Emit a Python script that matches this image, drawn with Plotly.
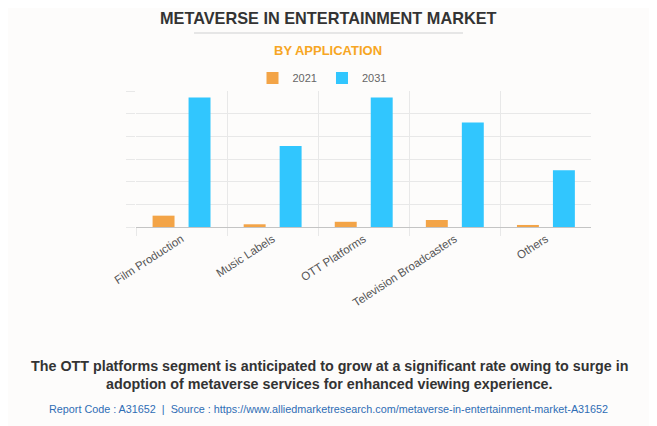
import plotly.graph_objects as go

categories = ["Film Production", "Music Labels", "OTT Platforms", "Television Broadcasters", "Others"]
values_2021 = [0.50, 0.12, 0.23, 0.31, 0.09]
values_2031 = [5.71, 3.57, 5.71, 4.61, 2.50]
series_names = ["2021", "2031"]

OFF = 8  # page body margin offset in the browser
W, H = 657 - OFF, 426 - OFF
ML, MR, MT, MB = 128, 66, 83, 199
PW, PH = W - ML - MR, H - MT - MB

def px(x):
    # x is a screen pixel position of the reference
    return (x - OFF - ML) / PW

def py(y):
    return (H - MB - (y - OFF)) / PH

fig = go.Figure()
fig.add_trace(go.Bar(name=series_names[0], x=categories, y=values_2021,
                     marker=dict(color="#F3A447", line=dict(width=0))))
fig.add_trace(go.Bar(name=series_names[1], x=categories, y=values_2031,
                     marker=dict(color="#31C6FE", line=dict(width=0))))

font_main = "Liberation Sans, Arial, sans-serif"

fig.update_layout(
    width=W, height=H,
    margin=dict(l=ML, r=MR, t=MT, b=MB, autoexpand=False),
    paper_bgcolor="#fdfcfb", plot_bgcolor="#fdfcfb",
    barmode="group", bargap=0.21, bargroupgap=0.39,
    showlegend=True,
    legend=dict(orientation="h", x=px(322), xanchor="center", y=py(78), yanchor="middle",
                font=dict(family=font_main, size=11, color="#666666"),
                bgcolor="rgba(0,0,0,0)", itemwidth=30, traceorder="normal"),
    xaxis=dict(type="category", tickson="boundaries", showgrid=True, gridcolor="#e8e8e8",
               gridwidth=1, ticks="outside", ticklen=8, tickcolor="#e8e8e8",
               showline=True, linecolor="#c4c4c4", linewidth=1,
               range=[-0.5, len(categories) - 0.505],
               tickangle=-33, tickfont=dict(family=font_main, size=11.5, color="#555555"),
               zeroline=False),
    yaxis=dict(range=[0, 6], dtick=1, showgrid=True, gridcolor="#e8e8e8", gridwidth=1,
               ticks="outside", ticklen=9, tickcolor="#e8e8e8", showticklabels=False,
               zeroline=False, showline=False),
    font=dict(family=font_main),
)

annotations = [
    dict(text="<b>METAVERSE IN ENTERTAINMENT MARKET</b>", x=px(328), y=py(18),
         font=dict(family=font_main, size=16.3, color="#333333")),
    dict(text="<b>BY APPLICATION</b>", x=px(328), y=py(51),
         font=dict(family=font_main, size=13, color="#F7A623")),
    dict(text="<b>The OTT platforms segment is anticipated to grow at a significant rate owing to surge in</b>",
         x=px(329), y=py(366), font=dict(family=font_main, size=14.3, color="#333333")),
    dict(text="<b>adoption of metaverse services for enhanced viewing experience.</b>",
         x=px(329), y=py(384), font=dict(family=font_main, size=14.3, color="#333333")),
    dict(text="Report Code : A31652  |  Source : https://www.alliedmarketresearch.com/metaverse-in-entertainment-market-A31652",
         x=px(328), y=py(409), font=dict(family=font_main, size=10.8, color="#2F6DB5")),
]
for a in annotations:
    a.update(xref="paper", yref="paper", xanchor="center", yanchor="middle", showarrow=False)
fig.update_layout(annotations=annotations)

fig.update_layout(shapes=[
    dict(type="line", xref="paper", yref="paper", x0=px(194), x1=px(463), y0=py(33), y1=py(33),
         line=dict(color="#e6e6e6", width=2)),
])

fig.write_html("out.html")
